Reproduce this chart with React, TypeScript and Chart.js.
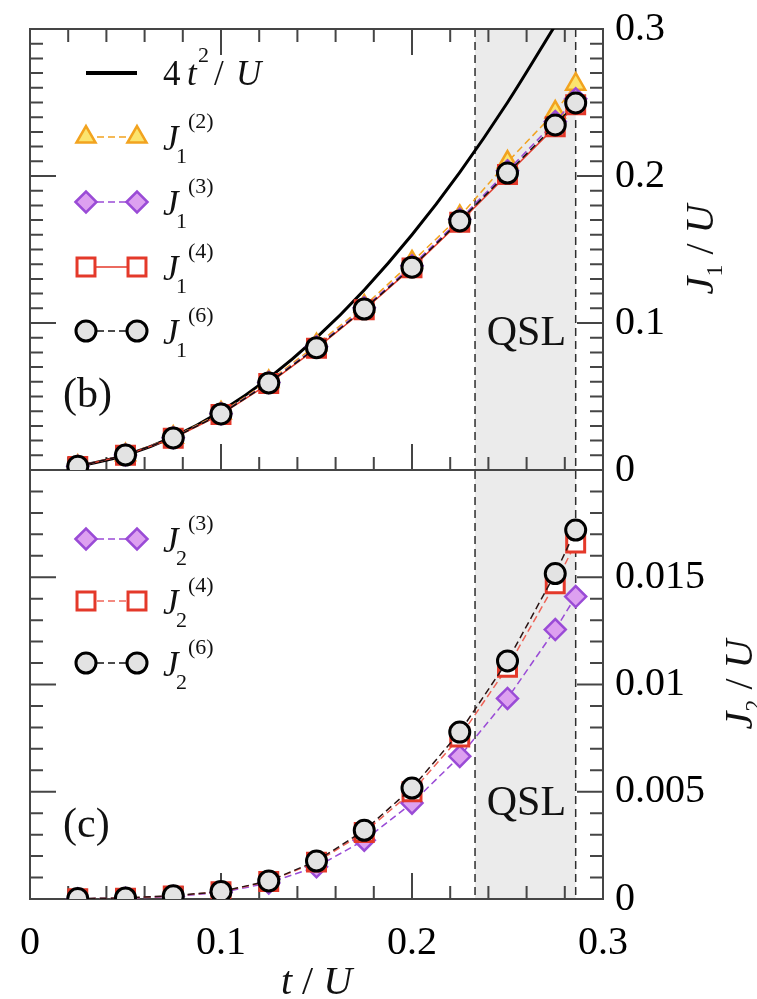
import { useEffect, useRef } from 'react';
import { Chart, registerables } from 'chart.js';

Chart.register(...registerables);

// ---------------- data ----------------
const T = [0.025, 0.05, 0.075, 0.1, 0.125, 0.15, 0.175, 0.2, 0.225, 0.25, 0.275, 0.2857];

// 4 t^2 / U curve
const T_CURVE = [0.025, 0.05, 0.075, 0.1, 0.125, 0.15, 0.175, 0.2, 0.225, 0.25, 0.275];
const CURVE_4T2 = [0.0025, 0.01, 0.0225, 0.04, 0.0625, 0.09, 0.1225, 0.16, 0.2025, 0.25, 0.3025];

// panel (b): J1 / U
const J1_2 = [0.0025, 0.0103, 0.0222, 0.0388, 0.0602, 0.0852, 0.1115, 0.1415, 0.1725, 0.2095, 0.2435, 0.2625];
const J1_3 = [0.0025, 0.0102, 0.0219, 0.0383, 0.0595, 0.0838, 0.1103, 0.139, 0.1705, 0.2035, 0.237, 0.2525];
const J1_4 = [0.0024, 0.0101, 0.0216, 0.0378, 0.0588, 0.0828, 0.109, 0.1375, 0.1685, 0.201, 0.2335, 0.2485];
const J1_6 = [0.0025, 0.0102, 0.0218, 0.0381, 0.0592, 0.0832, 0.1095, 0.138, 0.1694, 0.202, 0.2347, 0.2497];

// panel (c): J2 / U
const J2_3 = [0.00001, 0.00003, 0.00012, 0.0003, 0.00075, 0.0015, 0.00274, 0.00447, 0.00665, 0.00935, 0.01256, 0.0141];
const J2_4 = [0.00001, 0.00004, 0.00014, 0.00034, 0.00082, 0.00172, 0.0031, 0.005, 0.00755, 0.0108, 0.0147, 0.0166];
const J2_6 = [0.00002, 0.00005, 0.00015, 0.00035, 0.00084, 0.00177, 0.0032, 0.00517, 0.00778, 0.0111, 0.01517, 0.0172];

// QSL region (t/U)
const QSL_RANGE = [0.233, 0.2857];

// ticks
const X_TICKS = [0, 0.1, 0.2, 0.3];
const X_TICK_LABELS = ['0', '0.1', '0.2', '0.3'];
const Y1_TICKS = [0, 0.1, 0.2, 0.3];
const Y1_TICK_LABELS = ['0', '0.1', '0.2', '0.3'];
const Y2_TICKS = [0, 0.005, 0.01, 0.015];
const Y2_TICK_LABELS = ['0', '0.005', '0.01', '0.015'];

// ---------------- styles ----------------
const SERIF = '"Liberation Serif", "Times New Roman", serif';
const AXIS = '#454545';
const ORANGE = '#f2a31f';
const YELLOW = '#fbe46e';
const PURPLE = '#9a4bd6';
const LAV = '#dda0f0';
const RED = '#e4392a';
const RED_LIGHT = '#ef6458';
const CIRC_FILL = '#e3e3e3';

const MARK: Record<string, any> = {
  tri: { style: 'triangle', r: 11, lw: 2.5, stroke: ORANGE, fill: YELLOW },
  dia: { style: 'rectRot', r: 10.5, lw: 2.5, stroke: PURPLE, fill: LAV },
  sq: { style: 'rect', r: 12.7, lw: 3, stroke: RED, fill: '#ffffff' },
  circ: { style: 'circle', r: 10, lw: 3, stroke: '#000000', fill: CIRC_FILL },
};

const pts = (xs: number[], ys: number[]) => xs.map((x, i) => ({ x, y: ys[i] }));

function markerDs(label: string, data: number[], axis: string, m: any, lineColor: string, dash: number[], order: number) {
  return {
    label,
    data: pts(T, data),
    yAxisID: axis,
    xAxisID: 'x',
    borderColor: lineColor,
    borderWidth: 1.5,
    borderDash: dash,
    pointStyle: m.style,
    pointRadius: m.r,
    pointHoverRadius: m.r,
    pointBorderWidth: m.lw,
    pointBorderColor: m.stroke,
    pointBackgroundColor: m.fill,
    tension: 0,
    fill: false,
    order,
  };
}

function drawMarker(ctx: CanvasRenderingContext2D, m: any, x: number, y: number) {
  const r = m.r;
  ctx.save();
  ctx.beginPath();
  if (m.style === 'circle') {
    ctx.arc(x, y, r, 0, Math.PI * 2);
  } else if (m.style === 'rect') {
    const s = r * Math.SQRT1_2;
    ctx.rect(x - s, y - s, 2 * s, 2 * s);
  } else if (m.style === 'triangle') {
    ctx.moveTo(x, y - r);
    ctx.lineTo(x + r * Math.sin((2 * Math.PI) / 3), y + r * 0.5);
    ctx.lineTo(x - r * Math.sin((2 * Math.PI) / 3), y + r * 0.5);
    ctx.closePath();
  } else {
    ctx.moveTo(x - r, y);
    ctx.lineTo(x, y - r);
    ctx.lineTo(x + r, y);
    ctx.lineTo(x, y + r);
    ctx.closePath();
  }
  ctx.fillStyle = m.fill;
  ctx.fill();
  ctx.lineWidth = m.lw;
  ctx.strokeStyle = m.stroke;
  ctx.stroke();
  ctx.restore();
}

type Part = { t: string; font: string; dy?: number; dx?: number };
function drawRun(ctx: CanvasRenderingContext2D, parts: Part[], x: number, y: number, align: 'left' | 'center') {
  let w = 0;
  for (const p of parts) {
    ctx.font = p.font;
    w += ctx.measureText(p.t).width + (p.dx || 0);
  }
  let cx = align === 'center' ? x - w / 2 : x;
  ctx.textAlign = 'left';
  ctx.textBaseline = 'alphabetic';
  for (const p of parts) {
    ctx.font = p.font;
    cx += p.dx || 0;
    ctx.fillText(p.t, cx, y + (p.dy || 0));
    cx += ctx.measureText(p.t).width;
  }
}

function tickValues(min: number, max: number, step: number) {
  const out: number[] = [];
  const n = Math.round((max - min) / step);
  for (let i = 0; i <= n; i++) out.push(min + i * step);
  return out;
}
const isMajor = (v: number, step: number) => Math.abs(v / step - Math.round(v / step)) < 1e-6;

const F = (size: number, italic = false) => `${italic ? 'italic ' : ''}${size}px ${SERIF}`;

const LEG_X1 = 86;
const LEG_X2 = 137;
const LEG_TX = 163;

const TOP_LEGEND = [
  { m: MARK.tri, line: ORANGE, dash: [7, 4], sub: '1', sup: '(2)', y: 137 },
  { m: MARK.dia, line: PURPLE, dash: [7, 4], sub: '1', sup: '(3)', y: 202 },
  { m: MARK.sq, line: RED, dash: [], sub: '1', sup: '(4)', y: 267 },
  { m: MARK.circ, line: '#111', dash: [7, 4], sub: '1', sup: '(6)', y: 331 },
];
const BOT_LEGEND = [
  { m: MARK.dia, line: PURPLE, dash: [7, 4], sub: '2', sup: '(3)', y: 539 },
  { m: MARK.sq, line: RED_LIGHT, dash: [7, 4], sub: '2', sup: '(4)', y: 601 },
  { m: MARK.circ, line: '#111', dash: [7, 4], sub: '2', sup: '(6)', y: 663 },
];

function drawLegendRow(ctx: CanvasRenderingContext2D, row: any) {
  ctx.save();
  ctx.strokeStyle = row.line;
  ctx.lineWidth = 1.5;
  ctx.setLineDash(row.dash);
  ctx.beginPath();
  ctx.moveTo(LEG_X1, row.y);
  ctx.lineTo(LEG_X2, row.y);
  ctx.stroke();
  ctx.setLineDash([]);
  drawMarker(ctx, row.m, LEG_X1, row.y);
  drawMarker(ctx, row.m, LEG_X2, row.y);
  ctx.fillStyle = '#111';
  ctx.textAlign = 'left';
  ctx.textBaseline = 'alphabetic';
  ctx.font = F(35, true);
  ctx.fillText('J', LEG_TX, row.y + 13);
  ctx.font = F(22);
  ctx.fillText(row.sub, LEG_TX + 13, row.y + 26);
  ctx.fillText(row.sup, LEG_TX + 25, row.y - 9);
  ctx.restore();
}

const decor = {
  id: 'decor',
  beforeDatasetsDraw(chart: any) {
    const { ctx, chartArea: a, scales } = chart;
    const x = scales.x;
    const yT = scales.yTop;
    const yB = scales.yBot;
    const x0 = x.getPixelForValue(QSL_RANGE[0]);
    const x1 = x.getPixelForValue(QSL_RANGE[1]);
    ctx.save();
    ctx.fillStyle = '#ebebeb';
    ctx.fillRect(x0, a.top, x1 - x0, a.bottom - a.top);
    ctx.strokeStyle = '#2e2e2e';
    ctx.lineWidth = 1.5;
    ctx.setLineDash([8, 5]);
    for (const xv of [x0, x1]) {
      ctx.beginPath();
      ctx.moveTo(xv, a.top);
      ctx.lineTo(xv, a.bottom);
      ctx.stroke();
    }
    ctx.setLineDash([]);

    // frame
    ctx.strokeStyle = AXIS;
    ctx.lineWidth = 2;
    ctx.strokeRect(a.left, a.top, a.right - a.left, a.bottom - a.top);
    const mid = yT.bottom;
    ctx.beginPath();
    ctx.moveTo(a.left, mid);
    ctx.lineTo(a.right, mid);
    ctx.stroke();

    const MAJ = 26;
    const MIN = 13;
    ctx.beginPath();
    // x ticks
    for (const v of tickValues(0, 0.3, 0.02)) {
      if (v <= 1e-9 || v >= 0.3 - 1e-9) continue;
      const px = x.getPixelForValue(v);
      const L = isMajor(v, 0.1) ? MAJ : MIN;
      ctx.moveTo(px, a.top); ctx.lineTo(px, a.top + L);
      ctx.moveTo(px, mid); ctx.lineTo(px, mid - L);
      ctx.moveTo(px, a.bottom); ctx.lineTo(px, a.bottom - L);
    }
    // top y ticks
    for (const v of tickValues(0, 0.3, 0.01)) {
      if (v <= 1e-9 || v >= 0.3 - 1e-9) continue;
      const py = yT.getPixelForValue(v);
      const L = isMajor(v, 0.1) ? MAJ : MIN;
      ctx.moveTo(a.left, py); ctx.lineTo(a.left + L, py);
      ctx.moveTo(a.right, py); ctx.lineTo(a.right - L, py);
    }
    // bottom y ticks
    for (const v of tickValues(0, 0.02, 0.001)) {
      if (v <= 1e-9 || v >= 0.02 - 1e-9) continue;
      const py = yB.getPixelForValue(v);
      const L = isMajor(v, 0.005) ? MAJ : MIN;
      ctx.moveTo(a.left, py); ctx.lineTo(a.left + L, py);
      ctx.moveTo(a.right, py); ctx.lineTo(a.right - L, py);
    }
    ctx.stroke();
    ctx.restore();
  },
  afterDraw(chart: any) {
    const { ctx, chartArea: a, scales } = chart;
    const x = scales.x;
    const yT = scales.yTop;
    const yB = scales.yBot;
    ctx.save();

    // legend (b)
    ctx.strokeStyle = '#000';
    ctx.lineWidth = 4;
    ctx.beginPath();
    ctx.moveTo(LEG_X1, 73);
    ctx.lineTo(LEG_X2, 73);
    ctx.stroke();
    ctx.fillStyle = '#111';
    ctx.textAlign = 'left';
    ctx.textBaseline = 'alphabetic';
    ctx.font = F(35);
    ctx.fillText('4', LEG_TX, 85);
    ctx.font = F(35, true);
    ctx.fillText('t', 187, 85);
    ctx.font = F(22);
    ctx.fillText('2', 198, 62);
    ctx.font = F(35);
    ctx.fillText('/', 214, 85);
    ctx.font = F(35, true);
    ctx.fillText('U', 236, 85);
    for (const r of TOP_LEGEND) drawLegendRow(ctx, r);
    for (const r of BOT_LEGEND) drawLegendRow(ctx, r);

    // panel labels
    ctx.fillStyle = '#111';
    ctx.font = F(42);
    ctx.textAlign = 'left';
    ctx.fillText('(b)', 63, 407);
    ctx.fillText('(c)', 63, 837);

    // QSL
    const qx = (x.getPixelForValue(QSL_RANGE[0]) + x.getPixelForValue(QSL_RANGE[1])) / 2;
    ctx.textAlign = 'center';
    ctx.fillText('QSL', qx + 1, 345);
    ctx.fillText('QSL', qx + 1, 815);

    // x title
    ctx.fillStyle = '#111';
    drawRun(ctx, [
      { t: 't', font: F(40, true) },
      { t: ' / ', font: F(40) },
      { t: 'U', font: F(40, true) },
    ], (a.left + a.right) / 2, 994, 'center');

    // y titles (rotated, reading upward)
    const titles = [
      { bx: 713, cy: (yT.top + yT.bottom) / 2, sub: '1' },
      { bx: 752, cy: (yB.top + yB.bottom) / 2, sub: '2' },
    ];
    for (const tt of titles) {
      ctx.save();
      ctx.translate(tt.bx, tt.cy);
      ctx.rotate(-Math.PI / 2);
      drawRun(ctx, [
        { t: 'J', font: F(40, true) },
        { t: tt.sub, font: F(24), dy: 9 },
        { t: ' / ', font: F(40) },
        { t: 'U', font: F(40, true) },
      ], 0, 0, 'center');
      ctx.restore();
    }
    ctx.restore();
  },
};

const labelFor = (ticks: number[], labels: string[]) => (v: any) => {
  const i = ticks.findIndex((t) => Math.abs(t - Number(v)) < 1e-9);
  return i >= 0 ? labels[i] : '';
};

export default function App() {
  const ref = useRef<HTMLCanvasElement>(null);
  useEffect(() => {
    document.body.style.margin = '0';
    const tickFont = { family: SERIF, size: 40 };
    const chart = new Chart(ref.current as HTMLCanvasElement, {
      type: 'line',
      data: {
        datasets: [
          {
            label: '4t2/U',
            data: pts(T_CURVE, CURVE_4T2),
            yAxisID: 'yTop',
            xAxisID: 'x',
            borderColor: '#000',
            borderWidth: 3,
            pointRadius: 0,
            pointHoverRadius: 0,
            cubicInterpolationMode: 'monotone',
            fill: false,
            order: 5,
          } as any,
          markerDs('J1(2)', J1_2, 'yTop', MARK.tri, ORANGE, [7, 4], 4),
          markerDs('J1(3)', J1_3, 'yTop', MARK.dia, PURPLE, [7, 4], 3),
          markerDs('J1(4)', J1_4, 'yTop', MARK.sq, RED, [], 2),
          markerDs('J1(6)', J1_6, 'yTop', MARK.circ, '#111', [7, 4], 1),
          markerDs('J2(3)', J2_3, 'yBot', MARK.dia, PURPLE, [7, 4], 3),
          markerDs('J2(4)', J2_4, 'yBot', MARK.sq, RED_LIGHT, [7, 4], 2),
          markerDs('J2(6)', J2_6, 'yBot', MARK.circ, '#2a1414', [7, 4], 1),
        ],
      },
      options: {
        responsive: false,
        maintainAspectRatio: false,
        animation: false,
        devicePixelRatio: 1,
        events: [],
        layout: { padding: { left: 30, top: 29, right: 0, bottom: 0 } },
        plugins: { legend: { display: false }, tooltip: { enabled: false }, title: { display: false } },
        scales: {
          x: {
            type: 'linear',
            position: 'bottom',
            min: 0,
            max: 0.3,
            afterBuildTicks: (s: any) => { s.ticks = X_TICKS.map((v) => ({ value: v })); },
            afterFit: (s: any) => { s.height = 100; s.paddingLeft = 0; s.paddingRight = 0; },
            ticks: { callback: labelFor(X_TICKS, X_TICK_LABELS), font: tickFont, color: '#000', padding: 20, maxRotation: 0, autoSkip: false },
            grid: { display: false, drawTicks: false },
            border: { display: false },
          },
          yTop: {
            type: 'linear',
            position: 'right',
            stack: 'panels',
            stackWeight: 441,
            min: 0,
            max: 0.3,
            afterBuildTicks: (s: any) => { s.ticks = Y1_TICKS.map((v) => ({ value: v })); },
            afterFit: (s: any) => { s.width = 154; s.paddingTop = 0; s.paddingBottom = 0; },
            ticks: { callback: labelFor(Y1_TICKS, Y1_TICK_LABELS), font: tickFont, color: '#000', padding: 12, autoSkip: false },
            grid: { display: false, drawTicks: false },
            border: { display: false },
          },
          yBot: {
            type: 'linear',
            position: 'right',
            stack: 'panels',
            stackWeight: 429,
            min: 0,
            max: 0.02,
            afterBuildTicks: (s: any) => { s.ticks = Y2_TICKS.map((v) => ({ value: v })); },
            afterFit: (s: any) => { s.width = 154; s.paddingTop = 0; s.paddingBottom = 0; },
            ticks: { callback: labelFor(Y2_TICKS, Y2_TICK_LABELS), font: tickFont, color: '#000', padding: 12, autoSkip: false },
            grid: { display: false, drawTicks: false },
            border: { display: false },
          },
        },
      } as any,
      plugins: [decor],
    });
    return () => chart.destroy();
  }, []);
  return (
    <div style={{ width: 757, height: 999, background: '#fff', overflow: 'hidden' }}>
      <canvas ref={ref} width={757} height={999} style={{ display: 'block' }} />
    </div>
  );
}
